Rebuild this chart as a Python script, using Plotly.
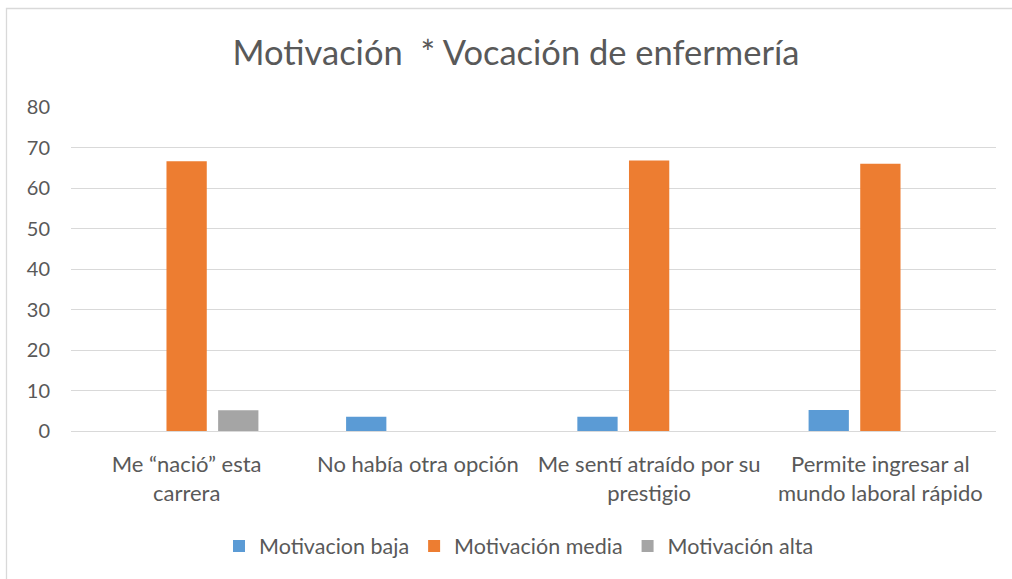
import plotly.graph_objects as go

categories = ["Me “nació” esta<br>carrera", "No había otra opción",
              "Me sentí atraído por su<br>prestigio", "Permite ingresar al<br>mundo laboral rápido"]
baja = [0, 3.5, 3.5, 5.2]
media = [66.6, 0, 66.8, 66.0]
alta = [5.1, 0, 0, 0]
series_names = ["Motivacion baja", "Motivación media", "Motivación alta"]
colors = ["#5B9BD5", "#ED7D31", "#A5A5A5"]
y_ticks = [0, 10, 20, 30, 40, 50, 60, 70, 80]

FONT = "Lato"
W, H = 1012, 579
L, R, T, B = 71, 16, 107, 148
pw, ph = W - L - R, H - T - B

fig = go.Figure()
for name, vals, c in zip(series_names, [baja, media, alta], colors):
    fig.add_trace(go.Bar(x=categories, y=vals, name=name, marker_color=c,
                         marker_line_width=0))

def px_x(p):
    return (p - L) / pw

def px_y(p):
    return (H - B - p) / ph

fig.update_layout(
    width=W, height=H,
    margin=dict(l=L, r=R, t=T, b=B, autoexpand=False),
    paper_bgcolor="white", plot_bgcolor="white",
    barmode="group", bargap=0.33, bargroupgap=0.22,
    title=dict(text="Motivación  * Vocación de enfermería", xref="container", x=516 / W,
               xanchor="center", yref="container", y=1 - 53 / H, yanchor="middle",
               font=dict(family=FONT, size=34.5, color="#595959")),
    font=dict(family=FONT, color="#595959", size=18),
    xaxis=dict(showgrid=False, showline=False, ticks="", zeroline=False,
               tickfont=dict(family=FONT, size=22, color="#595959"),
               ticklabelstandoff=18),
    yaxis=dict(range=[0, 80], tickvals=y_ticks, showgrid=True, gridcolor="#D9D9D9",
               gridwidth=1, zeroline=True, zerolinecolor="#D9D9D9", zerolinewidth=1,
               showline=False, ticks="",
               tickfont=dict(family=FONT, size=20, color="#595959"),
               ticklabelstandoff=20),
    legend=dict(orientation="h", x=px_x(519), xanchor="center", y=px_y(546), yanchor="middle",
                font=dict(family=FONT, size=21.5, color="#595959"), itemwidth=30,
                traceorder="normal", bgcolor="rgba(0,0,0,0)"),
    shapes=[dict(type="rect", xref="paper", yref="paper",
                 x0=px_x(6.5), x1=px_x(1030), y0=px_y(8.5), y1=px_y(600),
                 line=dict(color="#D9D9D9", width=1.3), layer="below")],
)

fig.write_html("out.html", config={"displayModeBar": False},
               post_script="document.body.style.margin='0';document.body.style.overflow='hidden';")
